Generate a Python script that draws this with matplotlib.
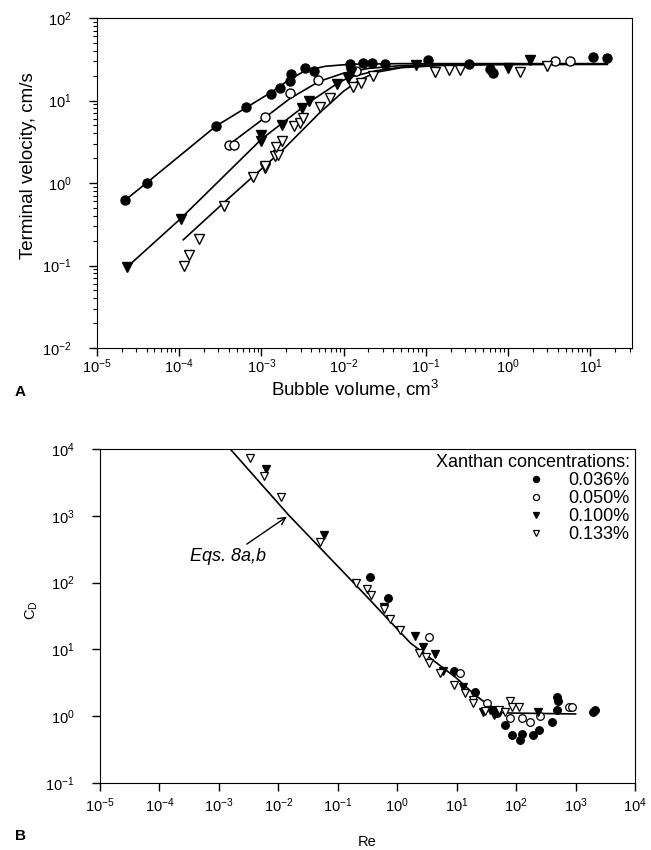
import matplotlib
matplotlib.use('Agg')
from matplotlib import pyplot as plt
from matplotlib.ticker import LogLocator, NullLocator, NullFormatter

plt.rcParams['font.family'] = ['Liberation Sans', 'DejaVu Sans']
plt.rcParams['mathtext.fontset'] = 'custom'
plt.rcParams['mathtext.rm'] = 'Liberation Sans'
plt.rcParams['mathtext.it'] = 'Liberation Sans:italic'

# panel A: terminal velocity vs bubble volume
vol_036 = [2.2e-5, 4e-5, 2.8e-4, 6.4e-4, 1.3e-3, 1.7e-3, 2.2e-3, 2.3e-3, 3.4e-3, 4.4e-3,
           0.012, 0.017, 0.022, 0.032, 0.107, 0.33, 0.6, 0.66, 10.7, 15.8]
vel_036 = [0.62, 1.0, 4.9, 8.3, 12, 14.3, 17, 21, 25, 23,
           28, 28.5, 28.5, 27.5, 31, 27.6, 24, 21.5, 34, 33]
vol_050 = [4e-4, 4.6e-4, 1.1e-3, 2.2e-3, 4.9e-3, 0.014, 3.7, 5.6]
vel_050 = [2.9, 2.9, 6.3, 12.3, 17.7, 23, 30, 30.5]
vol_100 = [2.3e-5, 1.04e-4, 1.0e-3, 1.0e-3, 1.8e-3, 3.1e-3, 3.8e-3, 8.3e-3, 0.0114, 0.0123,
           0.075, 1.0, 1.86]
vel_100 = [0.095, 0.37, 3.8, 3.2, 5.0, 8.1, 10, 16, 19, 21.5,
           27, 24.6, 31]
vol_133 = [1.15e-4, 1.3e-4, 1.74e-4, 3.5e-4, 7.8e-4, 1.1e-3, 1.1e-3, 1.45e-3, 1.6e-3, 1.5e-3,
           1.8e-3, 2.5e-3, 2.9e-3, 3.2e-3, 5.1e-3, 6.9e-3, 0.013, 0.016, 0.023, 0.13,
           0.19, 0.26, 1.4, 2.96]
vel_133 = [0.098, 0.135, 0.21, 0.52, 1.19, 1.5, 1.6, 2.1, 2.2, 2.75,
           3.2, 4.9, 5.3, 6.2, 8.4, 10.7, 14.4, 16.5, 20, 22.4,
           23.4, 23.4, 22.4, 26]

# fitted curves
fit_vol_036 = [2.2e-5, 4e-5, 2.8e-4, 1.3e-3, 2.2e-3, 3.4e-3, 6e-3, 0.012, 0.05, 16]
fit_vel_036 = [0.62, 1.0, 4.9, 12.5, 18, 23, 26, 27.5, 28, 28]
fit_vol_050 = [4e-4, 1.1e-3, 2.2e-3, 5e-3, 0.01, 0.02, 0.05, 0.2, 16]
fit_vel_050 = [2.9, 6.2, 10.5, 17, 21.5, 24.5, 26.5, 27.5, 27.5]
fit_vol_100 = [2.3e-5, 1.04e-4, 1e-3, 3.9e-3, 8.3e-3, 0.0114, 0.025, 0.06, 0.3, 16]
fit_vel_100 = [0.095, 0.37, 3.4, 9.7, 16, 19, 23, 26, 27.5, 27.5]
fit_vol_133 = [1.12e-4, 3.5e-4, 1.8e-3, 5.1e-3, 0.01, 0.016, 0.025, 0.05, 0.15, 1, 16]
fit_vel_133 = [0.205, 0.58, 2.5, 7.1, 13, 18, 22, 25, 26.5, 27.3, 27.5]

# panel B: drag coefficient vs Reynolds number
re_036 = [0.35, 0.71, 8.9, 20, 42, 48, 66, 85, 126, 118, 195, 240, 400, 485, 480, 500, 2000, 2140]
cd_036 = [120, 59, 4.7, 2.3, 1.23, 1.1, 0.74, 0.52, 0.55, 0.44, 0.52, 0.62, 0.83, 1.23, 1.95, 1.67, 1.17, 1.23]
re_050 = [3.4, 11.3, 32, 80, 126, 170, 255, 765, 885]
cd_050 = [15.4, 4.4, 1.55, 0.93, 0.94, 0.83, 1.0, 1.39, 1.39]
re_100 = [6.2e-3, 0.059, 0.59, 2.0, 2.7, 4.4, 6.0, 13, 28, 36, 42, 230]
cd_100 = [5000, 520, 43, 16, 10.7, 8.4, 4.8, 2.75, 1.17, 1.23, 1.05, 1.17]
re_133 = [3.4e-3, 5.8e-3, 0.011, 0.05, 0.2, 0.31, 0.36, 0.59, 0.76, 1.12,
          2.3, 3.1, 3.4, 5.2, 8.9, 14, 19, 19, 30, 51, 66, 80, 85, 110]
cd_133 = [7300, 4000, 1900, 410, 100, 79, 66, 40, 29, 19.5,
          8.9, 7.8, 6.2, 4.4, 2.95, 2.2, 1.75, 1.55, 1.2, 1.23, 1.17, 1.67, 1.39, 1.39]

eq_re = [1.55e-3, 0.015, 0.24, 1.66, 3.6, 10, 20, 35, 60, 1000]
eq_cd = [1e4, 1020, 78, 12.5, 7.4, 3.7, 2.1, 1.45, 1.12, 1.08]

labels = ['0.036%', '0.050%', '0.100%', '0.133%']

fig = plt.figure(figsize=(6.51, 8.5), dpi=100)
ax1 = fig.add_axes([97/651, 1-348/850, 535/651, 330/850])
ax2 = fig.add_axes([100/651, 1-783/850, 535/651, 334/850])

styles = [dict(marker='o', mfc='black', mec='black'),
          dict(marker='o', mfc='white', mec='black'),
          dict(marker='v', mfc='black', mec='black'),
          dict(marker='v', mfc='white', mec='black')]

# --- A ---
for xs, ys in [(fit_vol_036, fit_vel_036), (fit_vol_050, fit_vel_050),
               (fit_vol_100, fit_vel_100), (fit_vol_133, fit_vel_133)]:
    ax1.plot(xs, ys, color='black', lw=1.2, zorder=2)
for (xs, ys), st in zip([(vol_036, vel_036), (vol_050, vel_050),
                         (vol_100, vel_100), (vol_133, vel_133)], styles):
    ax1.plot(xs, ys, ls='none', ms=6.5, mew=1.0, zorder=3, **st)

ax1.set_xscale('log')
ax1.set_yscale('log')
ax1.set_xlim(1e-5, 32)
ax1.set_ylim(1e-2, 1e2)
ax1.set_ylabel('Terminal velocity, cm/s', fontsize=13.5)
ax1.set_xlabel('Bubble volume, cm$^3$', fontsize=13.5)
ax1.yaxis.set_label_coords(-0.112, 0.552)
ax1.xaxis.set_label_coords(0.482, -0.09)
ax1.xaxis.set_major_locator(LogLocator(base=10, numticks=20))
ax1.xaxis.set_minor_locator(LogLocator(base=10, subs=range(2, 10), numticks=20))
ax1.xaxis.set_minor_formatter(NullFormatter())
ax1.yaxis.set_minor_locator(LogLocator(base=10, subs=range(2, 10), numticks=20))
ax1.yaxis.set_minor_formatter(NullFormatter())

# --- B ---
ax2.plot(eq_re, eq_cd, color='black', lw=1.2, zorder=2)
for (xs, ys), st, lab in zip([(re_036, cd_036), (re_050, cd_050),
                              (re_100, cd_100), (re_133, cd_133)], styles, labels):
    ax2.plot(xs, ys, ls='none', ms=5.5, mew=0.9, zorder=3, label=lab, **st)

ax2.set_xscale('log')
ax2.set_yscale('log')
ax2.set_xlim(1e-5, 1e4)
ax2.set_ylim(1e-1, 1e4)
ax2.xaxis.set_major_locator(LogLocator(base=10, numticks=20))
ax2.xaxis.set_minor_locator(NullLocator())
ax2.yaxis.set_minor_locator(NullLocator())
ax2.set_xlabel('Re', fontsize=10.5)
ax2.set_ylabel('C$_\\mathregular{D}$', fontsize=10.5)
ax2.xaxis.set_label_coords(0.5, -0.155)
ax2.yaxis.set_label_coords(-0.112, 0.518)

ax2.annotate('Eqs. 8a,b', xy=(0.0139, 970), xytext=(3.27e-4, 242),
             fontsize=13, style='italic', va='center', ha='left',
             arrowprops=dict(arrowstyle='->', color='black', lw=1.0,
                             shrinkA=2, shrinkB=0))

leg = ax2.legend(loc='upper right', bbox_to_anchor=(1.0, 1.0), frameon=False,
                 title='Xanthan concentrations:', title_fontsize=13, fontsize=13,
                 alignment='right', markerscale=0.8, handlelength=1.0,
                 handletextpad=1.3, labelspacing=0.05, borderaxespad=0.2,
                 borderpad=0.1)

for ax in (ax1, ax2):
    ax.tick_params(which='both', direction='out', top=False, right=False, labelsize=10.5)
    ax.tick_params(which='major', length=6, width=1)
    ax.tick_params(which='minor', length=3, width=0.8)
    ax.tick_params(axis='y', which='major', pad=12)
ax1.tick_params(axis='x', which='major', pad=1)

fig.text(15/651, 1-392/850, 'A', fontsize=11, weight='bold', va='center')
fig.text(15/651, 1-836/850, 'B', fontsize=11, weight='bold', va='center')

fig.savefig('out.png', dpi=100)
